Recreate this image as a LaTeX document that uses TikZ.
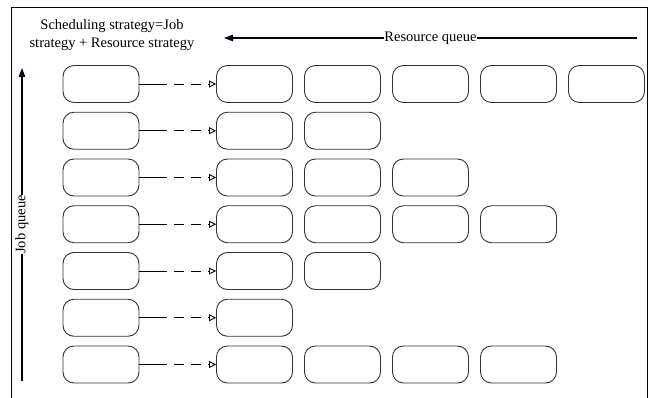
\documentclass[tikz,border=0pt]{standalone}
\usepackage{fontspec}
\setmainfont{Liberation Serif}
\usetikzlibrary{arrows.meta}
\begin{document}
\begin{tikzpicture}[x=1pt,y=-1pt,
  qbox/.style={draw=black!80, line width=0.9pt, rounded corners=11pt, minimum width=76pt, minimum height=37pt, inner sep=0pt},
  link/.style={line width=0.9pt, dash pattern=on 28pt off 7pt on 10pt off 7pt on 10pt off 7pt, -{Triangle[open,length=7pt,width=7pt]}},
  qarrow/.style={line width=1.1pt, -{Triangle[length=9pt,width=6.5pt,fill=blue!45!black]}},
  lbl/.style={font=\fontsize{14.5}{17.5}\selectfont, fill=white, inner sep=0pt}]
\useasboundingbox (0,0) rectangle (648,398);
% frame
\draw[line width=0.9pt] (11,398) -- (11,7) -- (647,7) -- (647,398);
% title
\node[lbl, align=center] (title) at (112,35) {Scheduling strategy=Job\\strategy + Resource strategy};
% resource queue arrow
\coordinate (rs) at (637,38);
\coordinate (re) at (224,38);
\draw[qarrow] (rs) -- (re) node[midway, lbl] {Resource queue};
% job queue arrow
\coordinate (js) at (22,381);
\coordinate (je) at (22,68);
\draw[qarrow] (js) -- (je) node[midway, lbl] {\rotatebox{90}{Job queue}};
% rows
\foreach \r/\n in {1/5,2/2,3/3,4/4,5/2,6/1,7/4} {
  \pgfmathsetmacro\yy{84+(\r-1)*46.75}
  \node[qbox] (j\r) at (101,\yy) {};
  \foreach \c in {1,...,\n} {
    \node[qbox] (r\r-\c) at ({254.5+(\c-1)*88},\yy) {};
  }
  \draw[link] (j\r) -- (r\r-1);
}
\end{tikzpicture}
\end{document}
